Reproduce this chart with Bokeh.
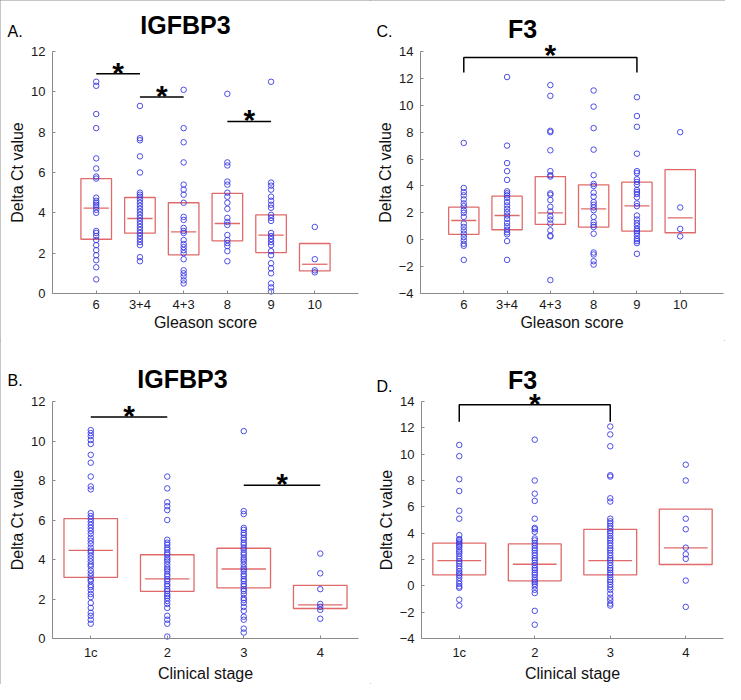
from bokeh.plotting import figure
from bokeh.layouts import row, column
from bokeh.models import Label, FixedTicker, Range1d
from bokeh.embed import file_html
from bokeh.resources import INLINE

# ---------------- data ----------------
gleason_cats = ["6", "3+4", "4+3", "8", "9", "10"]
stage_cats = ["1c", "2", "3", "4"]

# A. IGFBP3 vs Gleason score
a_6 = [10.5, 10.3, 8.9, 8.2, 6.7, 6.2, 5.8, 5.7, 4.75, 4.6, 4.5, 4.4, 4.3, 4.15, 4.0,
       3.1, 3.0, 2.85, 2.65, 2.4, 2.15, 1.9, 1.65, 1.3, 0.7]
a_34 = [9.3, 7.7, 7.6, 6.8, 6.0, 5.0, 4.9, 4.8, 4.65, 4.5, 4.35, 4.2, 4.05, 3.9, 3.75,
        3.6, 3.45, 3.3, 3.15, 3.0, 2.85, 2.7, 2.55, 2.4, 1.8, 1.6]
a_43 = [10.1, 8.2, 7.5, 6.5, 5.4, 5.15, 4.9, 4.5, 3.8, 3.65, 3.25, 3.1, 3.0, 2.65, 2.45,
        2.3, 2.15, 2.0, 1.7, 1.15, 1.0, 0.85, 0.65, 0.5]
a_8 = [9.9, 6.5, 6.35, 5.55, 5.4, 5.0, 4.8, 4.5, 4.2, 3.75, 3.55, 3.4, 2.9, 2.65, 2.5,
       2.35, 2.1, 1.6]
a_9 = [10.5, 5.5, 5.35, 5.15, 4.8, 4.6, 4.4, 4.25, 3.9, 3.75, 3.6, 3.0, 2.85, 2.7, 2.55,
       2.4, 2.1, 1.9, 1.5, 1.25, 1.0, 0.5, 0.3, 0.1]
a_10 = [3.3, 1.7, 1.15, 1.05]
a_q1 = [2.69, 2.99, 1.92, 2.61, 2.03, 1.12]
a_med = [4.23, 3.72, 3.06, 3.47, 2.89, 1.45]
a_q3 = [5.7, 4.76, 4.5, 4.96, 3.9, 2.48]
a_sig_from = ["6", "3+4", "8"]
a_sig_to = ["3+4", "4+3", "9"]
a_sig_y = [10.9, 9.75, 8.53]

# C. F3 vs Gleason score
c_6 = [7.2, 3.85, 3.55, 3.3, 3.0, 2.7, 2.5, 2.2, 2.0, 1.7, 1.2, 0.95, 0.7, 0.45, 0.2,
       -0.05, -0.3, -0.45, -1.5]
c_34 = [12.1, 7.0, 5.7, 5.1, 4.45, 3.6, 3.45, 3.3, 3.1, 2.8, 2.55, 2.3, 2.05, 1.8, 1.55,
        1.25, 1.0, 0.75, 0.55, 0.4, -0.1, -1.5]
c_43 = [11.5, 10.7, 8.1, 8.0, 6.65, 5.1, 4.8, 4.7, 3.45, 3.35, 2.95, 2.45, 2.1, 1.75, 1.5,
        1.2, 0.7, 0.3, 0.25, -3.0]
c_8 = [11.1, 9.9, 8.3, 6.7, 4.8, 4.15, 4.0, 3.5, 3.2, 2.8, 2.6, 2.4, 2.2, 1.7, 1.3, 1.1,
       0.95, 0.45, -0.95, -1.1, -1.6, -1.85]
c_9 = [10.6, 9.2, 8.4, 6.4, 5.1, 4.95, 4.5, 4.3, 4.1, 3.7, 3.55, 3.4, 3.15, 2.7, 2.5, 1.8,
       1.5, 1.25, 1.05, 0.8, 0.65, 0.5, 0.3, 0.05, -0.1, -0.25, -1.05]
c_10 = [8.0, 2.4, 0.8, 0.25]
c_q1 = [0.4, 0.74, 1.14, 0.94, 0.64, 0.52]
c_med = [1.43, 1.8, 2.0, 2.3, 2.52, 1.63]
c_q3 = [2.42, 3.24, 4.7, 4.08, 4.28, 5.22]
c_sig_from = ["6"]
c_sig_to = ["9"]
c_sig_y = [13.55]
c_sig_leg = [12.44]

# B. IGFBP3 vs clinical stage
b_1c = [10.55, 10.4, 10.25, 10.05, 9.85, 9.3, 8.9, 8.2, 7.7, 7.55, 6.35, 6.2, 6.05, 5.9,
        5.75, 5.6, 5.45, 5.3, 5.1, 4.95, 4.8, 4.6, 4.45, 4.35, 4.2, 4.05, 3.9, 3.75, 3.65,
        3.45, 3.3, 3.15, 3.0, 2.9, 2.7, 2.6, 2.45, 2.25, 2.1, 1.8, 1.55, 1.3, 1.15, 0.95, 0.75]
b_2 = [8.2, 7.6, 6.9, 6.7, 6.5, 6.0, 5.0, 4.85, 4.75, 4.6, 4.5, 4.35, 4.25, 4.1, 4.0, 3.9,
       3.75, 3.6, 3.5, 3.4, 3.25, 3.15, 3.0, 2.9, 2.75, 2.65, 2.5, 2.4, 2.25, 2.15, 2.05,
       1.9, 1.75, 1.55, 1.15, 0.95, 0.75, 0.1]
b_3 = [10.5, 6.45, 6.3, 5.6, 5.5, 5.35, 5.25, 5.1, 5.0, 4.85, 4.75, 4.6, 4.5, 4.35, 4.25,
       4.1, 4.0, 3.9, 3.75, 3.6, 3.5, 3.4, 3.25, 3.15, 3.0, 2.9, 2.75, 2.65, 2.5, 2.4, 2.25,
       2.05, 1.95, 1.8, 1.6, 1.4, 1.1, 0.95, 0.5, 0.3]
b_4 = [4.3, 3.3, 2.5, 1.75, 1.6, 1.45, 1.0]
b_q1 = [3.1, 2.39, 2.56, 1.52]
b_med = [4.46, 3.02, 3.52, 1.7]
b_q3 = [6.07, 4.24, 4.57, 2.69]
b_sig_from = ["1c", "3"]
b_sig_to = ["2", "4"]
b_sig_y = [11.22, 7.76]

# D. F3 vs clinical stage
d_1c = [10.7, 9.85, 8.1, 7.2, 5.7, 5.1, 3.85, 3.55, 3.45, 3.3, 3.2, 3.05, 2.95, 2.75, 2.6,
        2.45, 2.25, 2.05, 1.85, 1.7, 1.5, 1.3, 1.1, 0.95, 0.8, 0.6, 0.35, 0.15, -0.05,
        -0.15, -1.05, -1.5]
d_2 = [11.1, 8.0, 7.0, 6.45, 5.1, 4.4, 4.3, 4.1, 3.6, 3.45, 3.25, 3.05, 2.85, 2.7, 2.5,
       2.3, 2.1, 1.95, 1.75, 1.55, 1.35, 1.2, 1.0, 0.85, 0.65, 0.45, 0.3, 0.15, -0.05,
       -0.3, -0.55, -1.9, -2.95]
d_3 = [12.1, 11.5, 10.6, 8.4, 8.3, 6.65, 6.4, 5.1, 4.9, 4.75, 4.55, 4.35, 4.15, 4.0, 3.8,
       3.6, 3.45, 3.25, 3.05, 2.85, 2.7, 2.5, 2.3, 2.1, 1.95, 1.75, 1.55, 1.35, 1.2, 1.0,
       0.85, 0.65, 0.45, 0.3, 0.1, -0.1, -0.3, -0.6, -0.9, -1.1, -1.35, -1.5]
d_4 = [9.2, 8.0, 5.1, 4.3, 2.9, 2.4, 2.05, 0.4, -1.6]
d_q1 = [0.83, 0.38, 0.83, 1.62]
d_med = [1.92, 1.64, 1.92, 2.88]
d_q3 = [3.25, 3.18, 4.29, 5.83]
d_sig_from = ["1c"]
d_sig_to = ["3"]
d_sig_y = [13.75]
d_sig_leg = [12.46]

yticks_igf = [0, 2, 4, 6, 8, 10, 12]
yticks_f3 = [-4, -2, 0, 2, 4, 6, 8, 10, 12, 14]

# ---------------- styling ----------------
FONT = "Liberation Sans"
BLUE = "#3a3ae6"
RED = "#e06a6a"
AXIS = "#8a8a8a"
BOX_HALF = 0.35
MED_HALF = 0.29


def make_panel(cats, groups, q1, med, q3, yrange, yticks, xlabel, xrange,
               W, H, box, title, title_px, letter, letter_px,
               sig_from, sig_to, sig_y, sig_leg=None, star_off=1.5):
    # box = pixel position of the axes inside the figure: left, top, right, bottom
    L, T, Rr, Bb = box
    x0, x1 = xrange
    y0, y1 = yrange
    kx = (Rr - L) / (x1 - x0)
    ky = (Bb - T) / (y1 - y0)

    def dx(px):
        return x0 + (px - L) / kx

    def dy(py):
        return y1 - (py - T) / ky

    p = figure(width=W, height=H, output_backend="svg", toolbar_location=None,
               title=None, x_range=Range1d(dx(0), dx(W)), y_range=Range1d(dy(H), dy(0)),
               min_border=0, min_border_left=0, min_border_right=0,
               min_border_top=0, min_border_bottom=0,
               background_fill_color="white", border_fill_color="white")
    p.outline_line_color = None
    p.grid.visible = False

    pos = {c: i + 1 for i, c in enumerate(cats)}
    xs = [pos[c] for c in cats]

    # boxes
    p.quad(left=[x - BOX_HALF for x in xs], right=[x + BOX_HALF for x in xs],
           bottom=q1, top=q3, fill_color=None, line_color=RED, line_width=1.3)
    p.segment(x0=[x - MED_HALF for x in xs], x1=[x + MED_HALF for x in xs],
              y0=med, y1=med, line_color=RED, line_width=1.3)
    # points
    for c, vals in zip(cats, groups):
        p.scatter([pos[c]] * len(vals), vals, marker="circle", size=5.5,
                  fill_color=None, line_color=BLUE, line_width=0.9)

    # significance markers
    for i, (a, b, y) in enumerate(zip(sig_from, sig_to, sig_y)):
        xa, xb = pos[a], pos[b]
        if sig_leg is None:
            p.segment(x0=[xa], x1=[xb], y0=[y], y1=[y], line_color="black", line_width=1.5)
        else:
            leg = sig_leg[i]
            p.line([xa, xa, xb, xb], [leg, y, y, leg], line_color="black", line_width=1.5)
        p.add_layout(Label(x=(xa + xb) / 2, y=y, y_offset=star_off, text="*",
                           text_align="center", text_baseline="middle",
                           text_font=FONT, text_font_style="bold",
                           text_font_size="30px", text_color="black"))

    # gene name and panel letter
    p.add_layout(Label(x=dx(title_px[0]), y=dy(title_px[1]), text=title,
                       text_align="center", text_baseline="middle", text_font=FONT,
                       text_font_style="bold", text_font_size="25px", text_color="black"))
    p.add_layout(Label(x=dx(letter_px[0]), y=dy(letter_px[1]), text=letter,
                       text_align="left", text_baseline="middle", text_font=FONT,
                       text_font_size="16px", text_color="black"))

    # axes, pinned to the data origin of each panel
    p.xaxis.fixed_location = y0
    p.yaxis.fixed_location = x0
    p.xaxis.bounds = (x0, x1)
    p.yaxis.bounds = (y0, y1)
    p.xaxis.ticker = FixedTicker(ticks=xs)
    p.xaxis.major_label_overrides = {x: c for x, c in zip(xs, cats)}
    p.yaxis.ticker = FixedTicker(ticks=yticks)
    p.xaxis.axis_label = xlabel
    p.yaxis.axis_label = "Delta Ct value"
    for ax in (p.xaxis, p.yaxis):
        ax.axis_line_color = AXIS
        ax.major_tick_line_color = AXIS
        ax.major_tick_in = 3
        ax.major_tick_out = 0
        ax.minor_tick_line_color = None
        ax.major_label_text_font = FONT
        ax.major_label_text_font_size = "13px"
        ax.major_label_text_color = "#1a1a1a"
        ax.axis_label_text_font = FONT
        ax.axis_label_text_font_size = "16px"
        ax.axis_label_text_font_style = "normal"
        ax.axis_label_text_color = "#111111"
    p.xaxis.major_label_standoff = 6
    p.xaxis.axis_label_standoff = 2
    p.yaxis.major_label_standoff = 7
    p.yaxis.axis_label_standoff = 2
    return p


pA = make_panel(gleason_cats, [a_6, a_34, a_43, a_8, a_9, a_10], a_q1, a_med, a_q3,
                (0, 12), yticks_igf, "Gleason score", (0, 7),
                370, 340, (52, 51, 358, 293),
                "IGFBP3", (185, 24), "A.", (7, 30.5),
                a_sig_from, a_sig_to, a_sig_y, star_off=1.5)
pC = make_panel(gleason_cats, [c_6, c_34, c_43, c_8, c_9, c_10], c_q1, c_med, c_q3,
                (-4, 14), yticks_f3, "Gleason score", (0, 7),
                355, 340, (50, 51, 353, 293),
                "F3", (152, 28), "C.", (6, 31.3),
                c_sig_from, c_sig_to, c_sig_y, c_sig_leg, star_off=3.3)
pB = make_panel(stage_cats, [b_1c, b_2, b_3, b_4], b_q1, b_med, b_q3,
                (0, 12), yticks_igf, "Clinical stage", (0.5, 4.5),
                370, 344, (52, 61, 358, 298),
                "IGFBP3", (182, 38), "B.", (7, 39.5),
                b_sig_from, b_sig_to, b_sig_y, star_off=1.5)
pD = make_panel(stage_cats, [d_1c, d_2, d_3, d_4], d_q1, d_med, d_q3,
                (-4, 14), yticks_f3, "Clinical stage", (0.5, 4.5),
                355, 344, (51, 61, 353, 298),
                "F3", (152, 39), "D.", (6, 46),
                d_sig_from, d_sig_to, d_sig_y, d_sig_leg, star_off=1.6)

layout = row(column(pA, pB), column(pC, pD))
# thin grey frame round the whole figure, drawn inside its box
layout.styles = {"outline": "1px solid #8c8c8c", "outline-offset": "-1px"}

with open("out.html", "w") as f:
    f.write(file_html(layout, INLINE))
